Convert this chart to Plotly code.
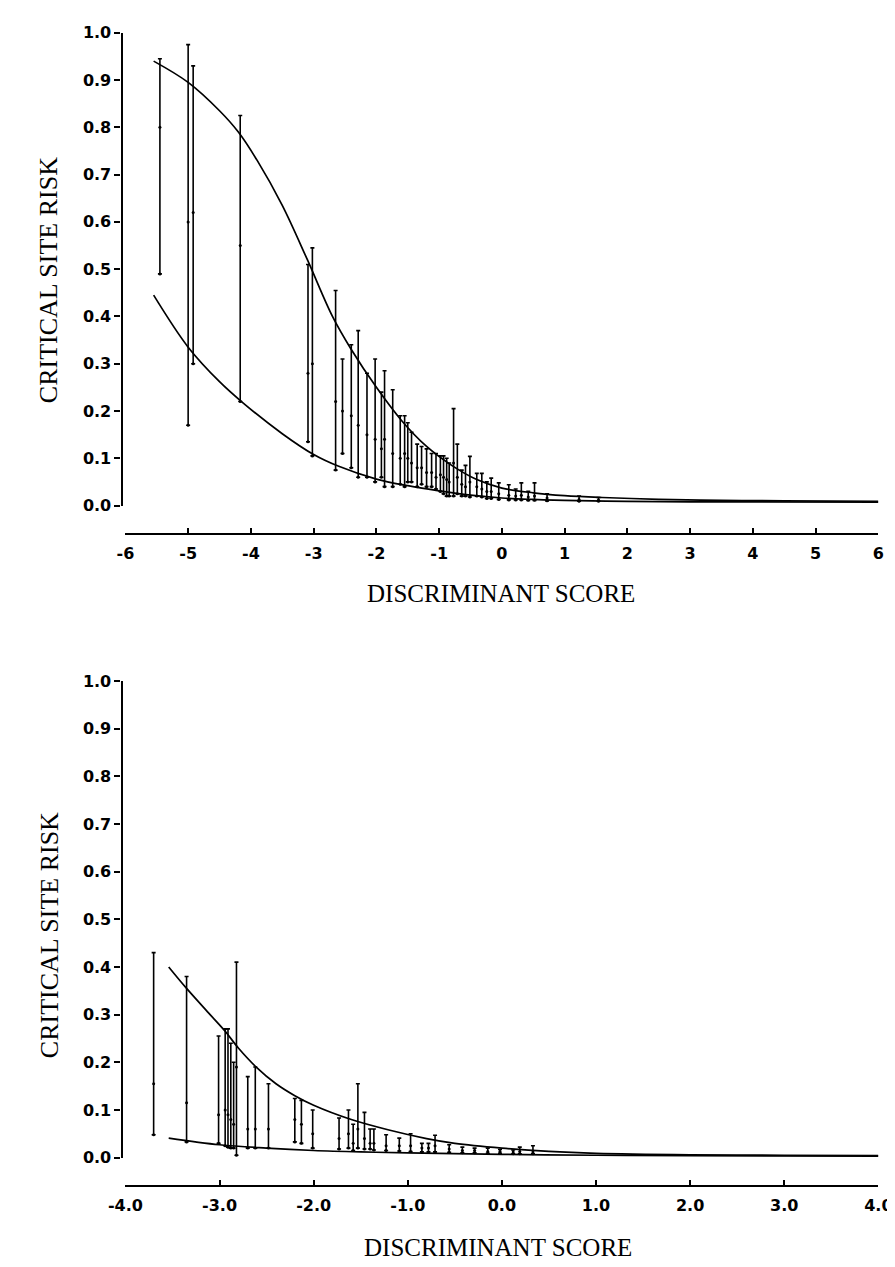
import plotly.graph_objects as go
import numpy as np

# ---------------- Top panel data ----------------
top_upper_x = [-5.55, -5.0, -4.5, -4.2, -3.9, -3.5, -3.1, -2.7, -2.4, -2.0, -1.6, -1.2, -0.8, -0.4, 0.0, 0.5, 1.0, 1.6, 2.5, 3.5, 4.5, 6.0]
top_upper_y = [0.94, 0.895, 0.835, 0.79, 0.73, 0.635, 0.52, 0.40, 0.33, 0.25, 0.18, 0.125, 0.085, 0.055, 0.037, 0.027, 0.021, 0.017, 0.013, 0.011, 0.010, 0.009]
top_lower_x = [-5.55, -5.0, -4.5, -4.15, -3.5, -3.0, -2.6, -2.0, -1.5, -1.0, -0.5, 0.0, 0.5, 1.0, 2.0, 3.0, 4.0, 6.0]
top_lower_y = [0.445, 0.335, 0.262, 0.22, 0.152, 0.108, 0.083, 0.056, 0.042, 0.031, 0.022, 0.016, 0.013, 0.011, 0.009, 0.008, 0.008, 0.007]

top_bar_x = [-5.45, -5.00, -4.92, -4.17, -3.09, -3.02, -2.65, -2.54, -2.40, -2.29, -2.15, -2.02, -1.92, -1.87, -1.74,
             -1.62, -1.55, -1.50, -1.44, -1.35, -1.28, -1.20, -1.12, -1.05, -0.98, -0.93, -0.88, -0.84, -0.77, -0.71,
             -0.64, -0.58, -0.51, -0.40, -0.32, -0.24, -0.17, -0.05, 0.11, 0.22, 0.31, 0.42, 0.52, 0.72, 1.23, 1.54]
top_bar_lo = [0.49, 0.17, 0.30, 0.22, 0.135, 0.105, 0.075, 0.11, 0.08, 0.06, 0.06, 0.05, 0.06, 0.04, 0.04,
              0.045, 0.04, 0.05, 0.05, 0.04, 0.045, 0.04, 0.04, 0.035, 0.03, 0.025, 0.02, 0.02, 0.02, 0.025,
              0.02, 0.02, 0.018, 0.02, 0.018, 0.015, 0.015, 0.013, 0.012, 0.012, 0.012, 0.011, 0.011, 0.010, 0.009, 0.009]
top_bar_mid = [0.80, 0.60, 0.62, 0.55, 0.28, 0.30, 0.22, 0.20, 0.19, 0.17, 0.15, 0.14, 0.12, 0.14, 0.11,
               0.10, 0.11, 0.10, 0.09, 0.08, 0.08, 0.07, 0.07, 0.06, 0.065, 0.06, 0.055, 0.05, 0.09, 0.06,
               0.045, 0.04, 0.05, 0.04, 0.035, 0.03, 0.03, 0.025, 0.022, 0.02, 0.022, 0.018, 0.02, 0.016, 0.013, 0.012]
top_bar_hi = [0.945, 0.975, 0.93, 0.825, 0.51, 0.545, 0.455, 0.31, 0.34, 0.37, 0.28, 0.31, 0.24, 0.285, 0.245,
              0.19, 0.19, 0.175, 0.155, 0.13, 0.125, 0.12, 0.11, 0.11, 0.105, 0.105, 0.10, 0.09, 0.205, 0.13,
              0.075, 0.085, 0.104, 0.068, 0.068, 0.05, 0.058, 0.048, 0.044, 0.035, 0.048, 0.03, 0.048, 0.025, 0.02, 0.017]

# ---------------- Bottom panel data ----------------
bot_upper_x = [-3.54, -3.35, -3.1, -2.94, -2.8, -2.61, -2.4, -2.2, -2.0, -1.6, -1.2, -0.8, -0.5, 0.0, 0.5, 1.0, 2.0, 3.0, 4.0]
bot_upper_y = [0.40, 0.355, 0.30, 0.265, 0.23, 0.19, 0.155, 0.13, 0.11, 0.08, 0.058, 0.04, 0.03, 0.02, 0.013, 0.009, 0.006, 0.005, 0.004]
bot_lower_x = [-3.54, -3.0, -2.5, -2.0, -1.5, -1.0, 0.0, 1.0, 2.0, 4.0]
bot_lower_y = [0.041, 0.027, 0.02, 0.015, 0.012, 0.010, 0.007, 0.005, 0.004, 0.003]

bot_bar_x = [-3.70, -3.35, -3.01, -2.94, -2.91, -2.88, -2.85, -2.82, -2.70, -2.62, -2.48, -2.20, -2.13, -2.01,
             -1.73, -1.63, -1.58, -1.53, -1.46, -1.40, -1.36, -1.23, -1.09, -0.97, -0.85, -0.78, -0.71, -0.56,
             -0.42, -0.29, -0.15, -0.02, 0.12, 0.19, 0.33]
bot_bar_lo = [0.048, 0.033, 0.03, 0.025, 0.022, 0.02, 0.02, 0.005, 0.02, 0.02, 0.02, 0.033, 0.03, 0.02,
              0.018, 0.02, 0.015, 0.02, 0.018, 0.018, 0.016, 0.015, 0.014, 0.013, 0.012, 0.012, 0.012, 0.011,
              0.010, 0.010, 0.009, 0.009, 0.008, 0.008, 0.008]
bot_bar_mid = [0.155, 0.115, 0.09, 0.10, 0.09, 0.08, 0.07, 0.19, 0.06, 0.06, 0.06, 0.08, 0.07, 0.05,
               0.04, 0.05, 0.03, 0.06, 0.04, 0.03, 0.03, 0.025, 0.025, 0.025, 0.02, 0.02, 0.025, 0.018,
               0.015, 0.015, 0.013, 0.013, 0.012, 0.013, 0.012]
bot_bar_hi = [0.43, 0.38, 0.255, 0.27, 0.27, 0.24, 0.20, 0.41, 0.17, 0.19, 0.155, 0.124, 0.12, 0.10,
              0.083, 0.10, 0.07, 0.155, 0.095, 0.06, 0.06, 0.048, 0.041, 0.05, 0.03, 0.03, 0.047, 0.027,
              0.022, 0.02, 0.02, 0.017, 0.016, 0.022, 0.025]

y_ticks = [0.0, 0.1, 0.2, 0.3, 0.4, 0.5, 0.6, 0.7, 0.8, 0.9, 1.0]
y_tick_text = ['0.0', '0.1', '0.2', '0.3', '0.4', '0.5', '0.6', '0.7', '0.8', '0.9', '1.0']
top_x_ticks = [-6, -5, -4, -3, -2, -1, 0, 1, 2, 3, 4, 5, 6]
top_x_text = ['-6', '-5', '-4', '-3', '-2', '-1', '0', '1', '2', '3', '4', '5', '6']
bot_x_ticks = [-4, -3, -2, -1, 0, 1, 2, 3, 4]
bot_x_text = ['-4.0', '-3.0', '-2.0', '-1.0', '0.0', '1.0', '2.0', '3.0', '4.0']

W, H = 895, 1267
def px(v):
    return v / W
def py(v):
    return 1 - v / H

fig = go.Figure()

def add_panel(xa, ya, ux, uy, lx, ly, bx, blo, bmid, bhi):
    for cx, cy in ((ux, uy), (lx, ly)):
        fig.add_trace(go.Scatter(x=cx, y=cy, mode='lines', line=dict(color='black', width=1.7, shape='spline', smoothing=1.0),
                                 xaxis=xa, yaxis=ya, showlegend=False, hoverinfo='skip'))
    bmid_a = np.array(bmid)
    fig.add_trace(go.Scatter(
        x=bx, y=bmid, mode='markers', marker=dict(color='black', size=3),
        error_y=dict(type='data', symmetric=False,
                     array=(np.array(bhi) - bmid_a).tolist(),
                     arrayminus=(bmid_a - np.array(blo)).tolist(),
                     color='black', thickness=1.6, width=2),
        xaxis=xa, yaxis=ya, showlegend=False, hoverinfo='skip'))
    fig.add_trace(go.Scatter(x=bx, y=blo, mode='markers', marker=dict(color='black', size=3),
                             xaxis=xa, yaxis=ya, showlegend=False, hoverinfo='skip'))

add_panel('x', 'y', top_upper_x, top_upper_y, top_lower_x, top_lower_y,
          top_bar_x, top_bar_lo, top_bar_mid, top_bar_hi)
add_panel('x2', 'y2', bot_upper_x, bot_upper_y, bot_lower_x, bot_lower_y,
          bot_bar_x, bot_bar_lo, bot_bar_mid, bot_bar_hi)

tickfont = dict(family='DejaVu Sans', size=16, color='black', weight='bold')
xdom = [px(104), px(884)]

common_x = dict(showline=True, linecolor='black', linewidth=2.2, ticks='inside', ticklen=5, tickwidth=1.5,
                tickcolor='black', showgrid=False, zeroline=False, tickfont=tickfont, anchor='free',
                ticklabelstandoff=5)
common_y = dict(showline=True, linecolor='black', linewidth=2.2, ticks='outside', ticklen=6, tickwidth=1.5,
                tickcolor='black', showgrid=False, zeroline=False, tickfont=tickfont, anchor='free',
                range=[0, 1.0], tickvals=y_ticks, ticktext=y_tick_text, position=px(100))

fig.update_layout(
    width=W, height=H, margin=dict(l=0, r=0, t=0, b=0),
    paper_bgcolor='white', plot_bgcolor='white', showlegend=False,
    xaxis=dict(common_x, domain=xdom, range=[-6, 6], tickvals=top_x_ticks, ticktext=top_x_text, position=py(525)),
    yaxis=dict(common_y, domain=[py(496), py(16)]),
    xaxis2=dict(common_x, domain=xdom, range=[-4, 4], tickvals=bot_x_ticks, ticktext=bot_x_text, position=py(1187)),
    yaxis2=dict(common_y, domain=[py(1158), py(674)]),
)

xtitlefont = dict(family='Liberation Serif, serif', size=25, color='black')
ytitlefont = dict(family='Liberation Serif, serif', size=26, color='black')
fig.add_annotation(text='DISCRIMINANT SCORE', x=px(493), y=py(585), xref='paper', yref='paper',
                   showarrow=False, font=xtitlefont, xanchor='center', yanchor='middle')
fig.add_annotation(text='DISCRIMINANT SCORE', x=px(490), y=py(1249), xref='paper', yref='paper',
                   showarrow=False, font=xtitlefont, xanchor='center', yanchor='middle')
fig.add_annotation(text='CRITICAL SITE RISK', x=px(25), y=py(267), xref='paper', yref='paper',
                   showarrow=False, font=ytitlefont, textangle=-90, xanchor='center', yanchor='middle')
fig.add_annotation(text='CRITICAL SITE RISK', x=px(25), y=py(932), xref='paper', yref='paper',
                   showarrow=False, font=ytitlefont, textangle=-90, xanchor='center', yanchor='middle')

fig.write_html('out.html')
